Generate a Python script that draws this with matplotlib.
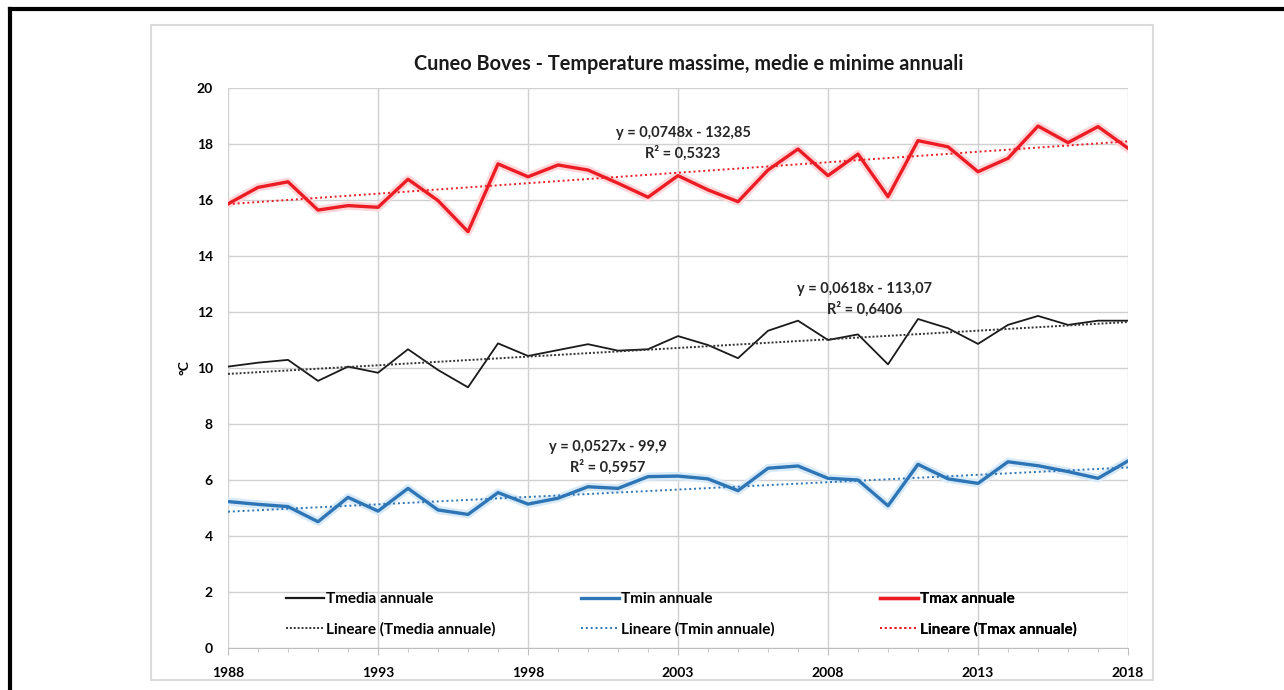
import numpy as np
import matplotlib

matplotlib.use("Agg")
import matplotlib.pyplot as plt
from matplotlib.patches import Rectangle
from matplotlib.lines import Line2D
import matplotlib.patheffects as pe

plt.rcParams["font.family"] = ["Lato", "DejaVu Sans"]

years = np.arange(1988, 2019)

tmax = [15.86, 16.45, 16.65, 15.64, 15.80, 15.74, 16.74, 15.98, 14.87, 17.29,
        16.83, 17.25, 17.07, 16.60, 16.10, 16.87, 16.36, 15.94, 17.07, 17.82,
        16.87, 17.64, 16.12, 18.12, 17.90, 17.01, 17.49, 18.64, 18.05, 18.62, 17.85]
tmedia = [10.05, 10.19, 10.29, 9.54, 10.05, 9.83, 10.67, 9.93, 9.31, 10.88,
          10.43, 10.64, 10.85, 10.62, 10.67, 11.14, 10.82, 10.35, 11.33, 11.69,
          11.00, 11.20, 10.13, 11.75, 11.42, 10.86, 11.54, 11.86, 11.54, 11.69, 11.69]
tmin = [5.23, 5.13, 5.05, 4.51, 5.38, 4.89, 5.70, 4.93, 4.77, 5.55,
        5.14, 5.35, 5.76, 5.70, 6.12, 6.14, 6.04, 5.62, 6.42, 6.50,
        6.06, 6.00, 5.08, 6.56, 6.04, 5.88, 6.65, 6.51, 6.30, 6.06, 6.68]

# trendline coefficients as printed on the chart (slope, intercept, R2)
trend_max = (0.0748, -132.85, 0.5323)
trend_media = (0.0618, -113.07, 0.6406)
trend_min = (0.0527, -99.9, 0.5957)

W, H = 1284, 690
fig = plt.figure(figsize=(W / 100, H / 100), dpi=100)

# outer black frame (top + left) and light chart box
fig.add_artist(Line2D([10 / W, 10 / W], [0, 1 - 9 / H], color="black", lw=3,
                      transform=fig.transFigure))
fig.add_artist(Line2D([10 / W, 1], [1 - 9 / H, 1 - 9 / H], color="black", lw=3,
                      transform=fig.transFigure))
fig.add_artist(Rectangle((151 / W, 1 - 680 / H), (1153 - 151) / W, (680 - 25) / H,
                         transform=fig.transFigure, fill=False, ec="#dcdcdc", lw=1.5))

ax = fig.add_axes([228 / W, 1 - 648 / H, 900 / W, 560 / H])
ax.set_xlim(1988, 2018)
ax.set_ylim(0, 20)

c_black = "#1a1a1a"
c_red = "#ec1c24"
c_blue = "#2e75b6"
glow_red = [pe.Stroke(linewidth=6, foreground="#fcd6d8"), pe.Normal()]
glow_blue = [pe.Stroke(linewidth=6, foreground="#d8eaf8"), pe.Normal()]

fit_x = np.array([1988, 2018])
ax.plot(years, tmedia, color=c_black, lw=1.3)
ax.plot(years, tmin, color=c_blue, lw=2.4, path_effects=glow_blue)
ax.plot(years, tmax, color=c_red, lw=2.4, path_effects=glow_red)
t1, = ax.plot(fit_x, trend_media[0] * fit_x + trend_media[1], color="#333333",
              lw=1.4, ls=(0, (1, 1)), label="Lineare (Tmedia annuale)")
t2, = ax.plot(fit_x, trend_min[0] * fit_x + trend_min[1], color=c_blue,
              lw=1.4, ls=(0, (1, 1.5)), label="Lineare (Tmin annuale)")
t3, = ax.plot(fit_x, trend_max[0] * fit_x + trend_max[1], color=c_red,
              lw=1.4, ls=(0, (1, 1.5)), label="Lineare (Tmax annuale)")

# plain handles for the legend (no glow)
l1 = Line2D([], [], color=c_black, lw=1.6, label="Tmedia annuale")
l2 = Line2D([], [], color=c_blue, lw=2.4, label="Tmin annuale")
l3 = Line2D([], [], color=c_red, lw=2.4, label="Tmax annuale")


def eq_label(coef):
    a, b, r2 = coef
    sign = "-" if b < 0 else "+"
    txt = f"y = {a:.4f}x {sign} {abs(b):g}\nR² = {r2:.4f}"
    return txt.replace(".", ",")


eq_style = dict(ha="center", va="center", fontsize=10.5, fontweight="bold",
                color="#262626", linespacing=1.45)
ax.text(2003.17, 18.02, eq_label(trend_max), **eq_style)
ax.text(2009.23, 12.45, eq_label(trend_media), **eq_style)
ax.text(2000.67, 6.8, eq_label(trend_min), **eq_style)

ax.set_xticks(np.arange(1988, 2019, 5))
ax.set_xticks(years, minor=True)
ax.set_yticks(np.arange(0, 21, 2))
ax.grid(True, which="major", color="#d0d0d0", lw=1)
ax.set_axisbelow(True)
for side in ["top", "left", "right"]:
    ax.spines[side].set_visible(False)
ax.spines["bottom"].set_color("#bfbfbf")
ax.tick_params(axis="y", length=0, pad=11, labelsize=10)
ax.tick_params(axis="x", which="major", length=5, color="#bfbfbf", pad=9, labelsize=10)
ax.tick_params(axis="x", which="minor", length=3, color="#bfbfbf")
for lab in ax.get_xticklabels() + ax.get_yticklabels():
    lab.set_fontweight("bold")
ax.set_ylabel("°C", fontsize=10, fontweight="bold", labelpad=4)

# one small legend per column, placed like the original
for x0, pair in [(0.0644, (l1, t1)), (0.392, (l2, t2)), (0.7244, (l3, t3))]:
    leg = ax.legend(list(pair), [h.get_label() for h in pair],
                    loc="upper left", bbox_to_anchor=(x0, 0.1),
                    frameon=False, prop={"weight": "bold", "size": 11},
                    handlelength=2.5, handletextpad=0.13, labelspacing=1.05,
                    borderpad=0, borderaxespad=0)
    ax.add_artist(leg)

fig.text(689 / W, 1 - 64 / H, "Cuneo Boves - Temperature massime, medie e minime annuali",
         ha="center", va="center", fontsize=14.3, fontweight="bold", color="#1a1a1a")

fig.savefig("out.png", dpi=100, facecolor="white")
